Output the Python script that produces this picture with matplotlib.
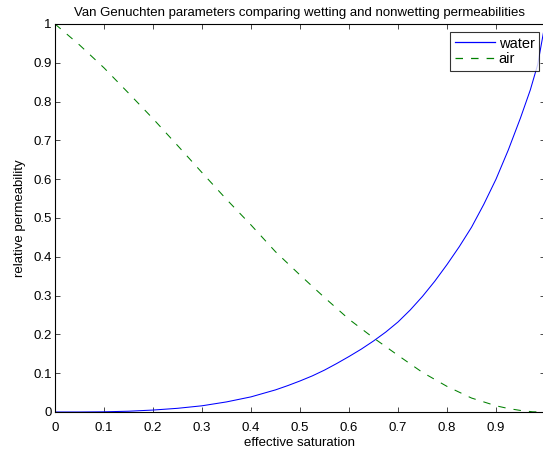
import matplotlib
matplotlib.use("Agg")
import matplotlib.pyplot as plt

plt.rcParams['font.family'] = ['Liberation Sans', 'DejaVu Sans']
plt.rcParams['lines.scale_dashes'] = False

# water curve
se_water = [0.0, 0.05, 0.1, 0.15, 0.2, 0.25, 0.3, 0.35, 0.4, 0.45, 0.475,
            0.5, 0.525, 0.55, 0.575, 0.6, 0.625, 0.65, 0.675, 0.7, 0.725,
            0.75, 0.775, 0.8, 0.825, 0.85, 0.875, 0.9, 0.925, 0.95, 0.97,
            0.985, 0.995, 1.0]
kr_water = [0.0, 0.0, 0.0005, 0.002, 0.005, 0.0095, 0.016, 0.026, 0.039,
            0.057, 0.068, 0.080, 0.093, 0.108, 0.125, 0.143, 0.162, 0.183,
            0.206, 0.232, 0.263, 0.298, 0.337, 0.380, 0.426, 0.476, 0.535,
            0.600, 0.675, 0.758, 0.830, 0.895, 0.965, 1.0]

# air curve
se_air = [0.0, 0.05, 0.1, 0.15, 0.2, 0.25, 0.3, 0.35, 0.4, 0.45, 0.5, 0.55,
          0.6, 0.65, 0.7, 0.75, 0.8, 0.85, 0.9, 0.925, 0.95, 0.975, 1.0]
kr_air = [1.0, 0.946, 0.887, 0.822, 0.756, 0.687, 0.617, 0.548, 0.482,
          0.413, 0.353, 0.295, 0.239, 0.191, 0.146, 0.102, 0.066, 0.036,
          0.016, 0.009, 0.004, 0.0005, 0.0]

ticks = [0, 0.1, 0.2, 0.3, 0.4, 0.5, 0.6, 0.7, 0.8, 0.9, 1.0]
tick_labels = ['0', '0.1', '0.2', '0.3', '0.4', '0.5', '0.6', '0.7', '0.8',
               '0.9', '1']

fig = plt.figure(figsize=(5.43, 4.51), dpi=100)
ax = fig.add_axes([55 / 543, 39 / 451, 490 / 543, 388 / 451])

ax.plot(se_water, kr_water, color='#0000ff', lw=0.75, label='water')
ax.plot(se_air, kr_air, color='#008000', lw=0.75, dashes=(5.4, 5.8),
        label='air')

ax.set_xlim(0, 1)
ax.set_ylim(0, 1)
ax.set_xticks(ticks)
ax.set_xticklabels(tick_labels[:-1] + [''])  # the "1" falls off the picture
ax.set_yticks(ticks)
ax.set_yticklabels(tick_labels)
ax.tick_params(direction='in', top=True, right=True, length=3.6, width=0.5,
               labelsize=9.5)
ax.tick_params(axis='x', pad=7)
ax.tick_params(axis='y', pad=2.5)
for s in ax.spines.values():
    s.set_linewidth(0.8)

ax.set_title("Van Genuchten parameters comparing wetting and nonwetting permeabilities",
             fontsize=9.5, pad=5.5)
ax.set_xlabel("effective saturation", fontsize=9.5, labelpad=2)
ax.set_ylabel("relative permeability", fontsize=9.5, labelpad=5)

leg = ax.legend(loc='upper right', bbox_to_anchor=(0.988, 0.979),
                fontsize=10.5, frameon=True, fancybox=False,
                borderaxespad=0.0, handlelength=2.74, handletextpad=0.28,
                borderpad=0.3, labelspacing=0.12)
leg.get_frame().set_edgecolor('black')
leg.get_frame().set_linewidth(0.8)
for ln in leg.get_lines():
    ln.set_linewidth(0.9)

fig.savefig('out.png', dpi=100)
